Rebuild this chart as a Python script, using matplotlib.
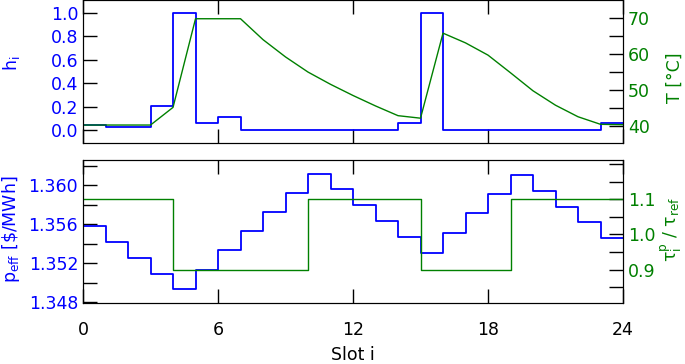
import numpy as np
import matplotlib.pyplot as plt
from matplotlib.ticker import MultipleLocator

# slot edges and per-slot values
slots = np.arange(25)
h = [0.04, 0.025, 0.025, 0.207, 1.0, 0.057, 0.113, 0.0, 0.0, 0.0, 0.0, 0.0,
     0.0, 0.0, 0.057, 1.0, 0.0, 0.0, 0.0, 0.0, 0.0, 0.0, 0.0, 0.057]
T = [40.2, 40.2, 40.2, 40.2, 45.1, 69.7, 69.7, 69.7, 63.9, 59.1, 54.9, 51.5,
     48.4, 45.5, 42.8, 42.1, 65.7, 63.0, 59.6, 54.7, 49.7, 45.7, 42.5, 40.4, 40.3]
p_eff = [1.35578, 1.35417, 1.35256, 1.35092, 1.34931, 1.35133, 1.35332, 1.35527,
         1.35726, 1.35925, 1.3612, 1.35959, 1.35801, 1.35637, 1.35472, 1.35308,
         1.3551, 1.35712, 1.35911, 1.36106, 1.35945, 1.35781, 1.3562, 1.35455]
tau = [1.1, 1.1, 1.1, 1.1, 0.9, 0.9, 0.9, 0.9, 0.9, 0.9, 1.1, 1.1, 1.1, 1.1, 1.1,
       0.9, 0.9, 0.9, 0.9, 1.1, 1.1, 1.1, 1.1, 1.1]

blue = '#0000ff'
green = '#008000'
fs = 12.5
plt.rcParams['font.size'] = fs

fig = plt.figure(figsize=(6.85, 3.64), dpi=100)
ax1 = fig.add_axes([0.1212, 0.607, 0.7883, 0.392])
ax2 = fig.add_axes([0.1212, 0.1676, 0.7883, 0.3929])

def style(ax, col, side):
    ax.tick_params(axis='y', direction='in', length=10, width=1, colors='black',
                   labelcolor=col, which='both', left=(side == 'left'),
                   right=(side == 'right'), labelleft=(side == 'left'),
                   labelright=(side == 'right'))

# top panel: heating and temperature
ax1.step(slots, h + [h[-1]], where='post', color=blue, lw=1.3)
ax1.set_ylim(-0.11, 1.105)
ax1.set_yticks([0.0, 0.2, 0.4, 0.6, 0.8, 1.0])
style(ax1, blue, 'left')
ax1.set_ylabel(r'h$_\mathrm{i}$', color=blue)
ax1.yaxis.set_label_coords(-0.113, 0.56)

ax1b = ax1.twinx()
ax1b.plot(slots, T, color=green, lw=1.0)
ax1b.set_ylim(35.2, 74.8)
ax1b.set_yticks([40, 50, 60, 70])
ax1b.yaxis.set_minor_locator(MultipleLocator(5))
style(ax1b, green, 'right')
ax1b.set_ylabel('T [°C]', color=green)
ax1b.yaxis.set_label_coords(1.08, 0.455)

# bottom panel: effective price and tariff ratio
ax2.step(slots, p_eff + [p_eff[-1]], where='post', color=blue, lw=1.3)
ax2.set_ylim(1.3479, 1.3626)
ax2.yaxis.set_major_locator(MultipleLocator(0.004))
ax2.yaxis.set_minor_locator(MultipleLocator(0.002))
ax2.yaxis.set_major_formatter(plt.FormatStrFormatter('%.3f'))
style(ax2, blue, 'left')
ax2.set_ylabel(r'p$_\mathrm{eff}$ [\$/MWh]', color=blue)
ax2.yaxis.set_label_coords(-0.113, 0.517)

ax2b = ax2.twinx()
ax2b.step(slots, tau + [tau[-1]], where='post', color=green, lw=1.0)
ax2b.set_ylim(0.806, 1.211)
ax2b.set_yticks([0.9, 1.0, 1.1])
ax2b.yaxis.set_minor_locator(MultipleLocator(0.05))
style(ax2b, green, 'right')
ax2b.set_ylabel(r'$\mathrm{\tau^p_i}$ / $\mathrm{\tau_{ref}}$', color=green, fontsize=12.5)
ax2b.yaxis.set_label_coords(1.066, 0.514)

for ax in (ax1, ax2, ax1b, ax2b):
    ax.set_xlim(0, 24)
    ax.set_xticks([0, 6, 12, 18, 24])
    ax.tick_params(axis='x', direction='in', length=10, width=1, top=True, bottom=True)
ax1.tick_params(axis='x', labelbottom=False)
ax1b.tick_params(axis='x', labelbottom=False)
ax2.tick_params(axis='x', pad=13)
ax2.set_xlabel('Slot i', labelpad=5)

fig.savefig('out.png', dpi=100)
